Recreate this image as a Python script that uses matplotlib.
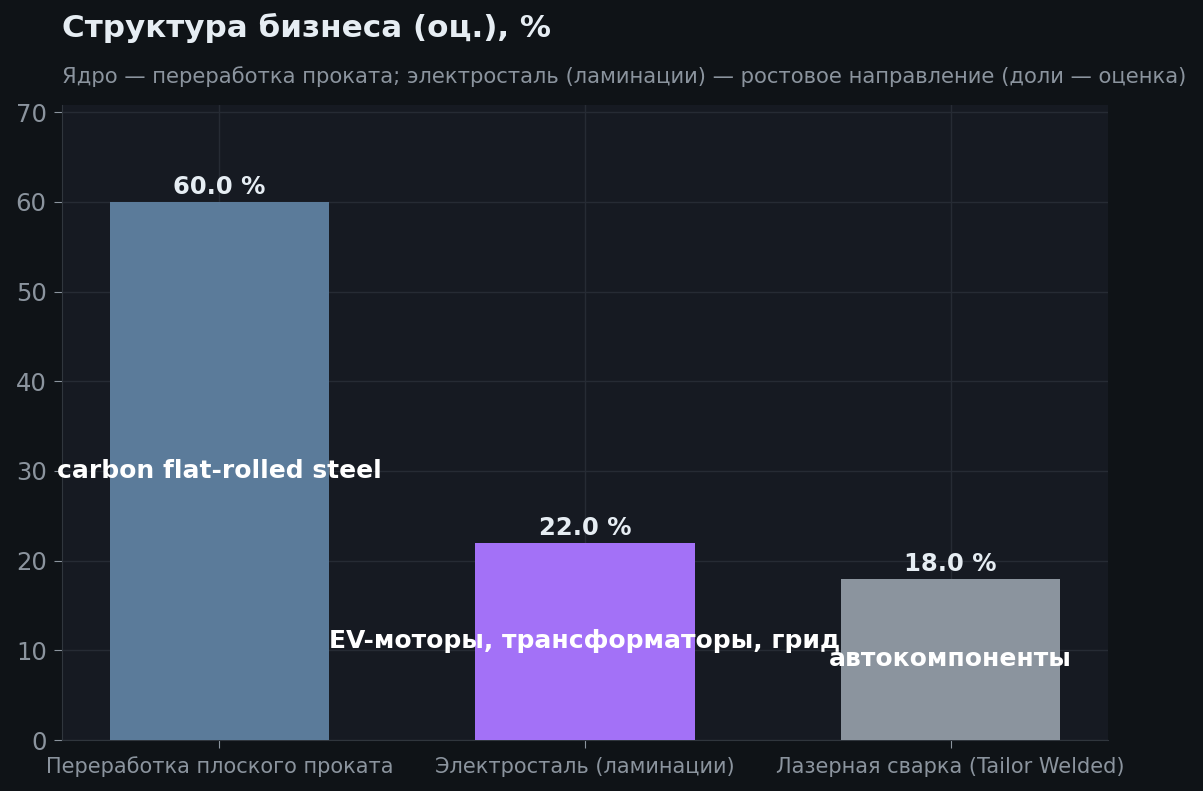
import matplotlib.pyplot as plt
import numpy as np

categories = ["Переработка плоского проката", "Электросталь (ламинации)", "Лазерная сварка (Tailor Welded)"]
shares = [60.0, 22.0, 18.0]
inner_labels = ["carbon flat-rolled steel", "EV-моторы, трансформаторы, грид", "автокомпоненты"]
colors = ["#5b7b9a", "#a371f7", "#8b949e"]

bg = "#0f1317"
panel = "#161a22"
muted = "#8b949e"

plt.rcParams['font.family'] = ['DejaVu Sans']

fig = plt.figure(figsize=(12.03, 7.91), dpi=100, facecolor=bg)
ax = fig.add_axes([62 / 1203, 1 - 740 / 791, (1108 - 62) / 1203, (740 - 105) / 791])
ax.set_facecolor(panel)

x = np.arange(len(categories))
bars = ax.bar(x, shares, width=0.6, color=colors, zorder=3)

ax.set_ylim(0, max(shares) * 1.18)
ax.set_xticks(x)
ax.set_xticklabels(categories, fontsize=15, color=muted)
ax.tick_params(axis='y', labelsize=17.5, colors=muted, length=6, pad=5)
ax.tick_params(axis='x', colors=muted, length=6, pad=6)
ax.grid(True, color="#262b34", linewidth=1, zorder=0)

for s in ["top", "right"]:
    ax.spines[s].set_visible(False)
for s in ["left", "bottom"]:
    ax.spines[s].set_color("#30363d")

for b, v, lab in zip(bars, shares, inner_labels):
    cx = b.get_x() + b.get_width() / 2
    ax.text(cx, v + 0.3, f"{v:.1f} %", ha="center", va="bottom",
            fontsize=17.5, fontweight="bold", color="#e6edf3", zorder=4)
    ax.text(cx, v / 2, lab, ha="center", va="center",
            fontsize=18, fontweight="bold", color="white", zorder=4)

fig.text(62 / 1203, 1 - 28 / 791, "Структура бизнеса (оц.), %", ha="left", va="center",
         fontsize=22.3, fontweight="bold", color="#e6edf3")
fig.text(62 / 1203, 1 - 77 / 791,
         "Ядро — переработка проката; электросталь (ламинации) — ростовое направление (доли — оценка)",
         ha="left", va="center", fontsize=15.2, color=muted)

fig.savefig("out.png", dpi=100, facecolor=bg)
